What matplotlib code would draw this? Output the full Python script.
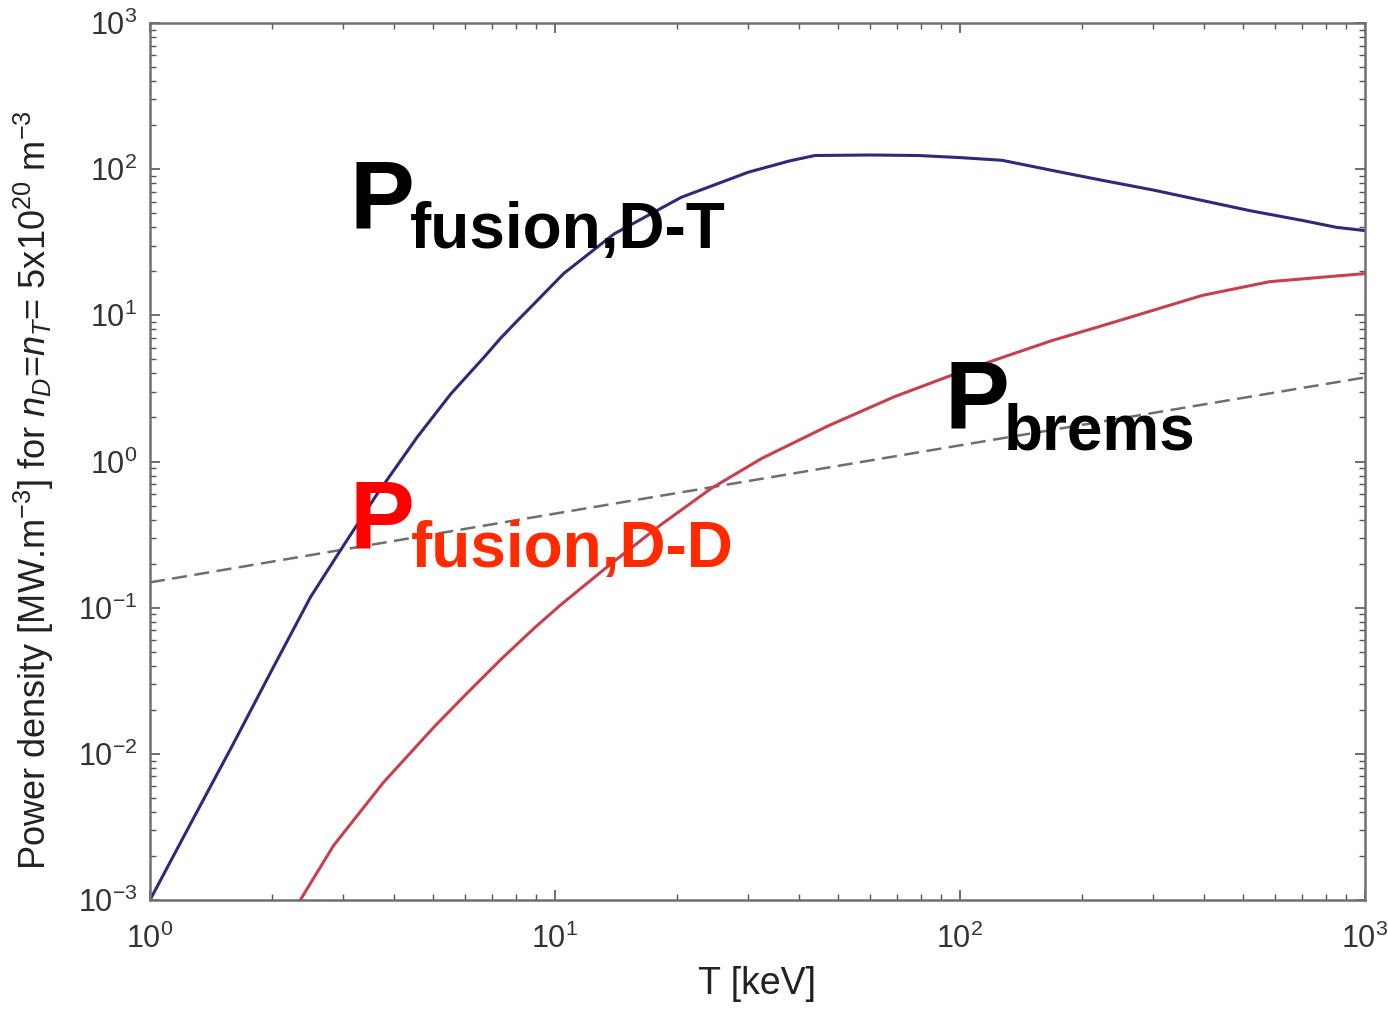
import numpy as np
import matplotlib
matplotlib.use('Agg')
import matplotlib.pyplot as plt
from matplotlib.ticker import LogLocator, NullFormatter

plt.rcParams['font.family'] = ['Liberation Sans', 'DejaVu Sans']
plt.rcParams['mathtext.fontset'] = 'custom'
plt.rcParams['mathtext.rm'] = 'Liberation Sans'
plt.rcParams['mathtext.it'] = 'Liberation Sans:italic'
plt.rcParams['mathtext.bf'] = 'Liberation Sans:bold'
plt.rcParams['mathtext.default'] = 'regular'
plt.rcParams['axes.unicode_minus'] = False

# D-T fusion power density
T_dt = [1, 1.25, 1.6, 2.0, 2.49, 2.95, 3.64, 4.57, 5.53, 6.68, 7.35, 8.08, 8.72, 10.5, 14.0, 20.5,
        30.0, 38, 43.8, 60, 79, 100, 127, 169, 224, 300, 397, 520, 703, 850, 1000]
P_dt = [0.001, 0.0032, 0.0115, 0.0375, 0.118, 0.246, 0.601, 1.47, 2.90, 5.17, 7.0, 9.21, 11.4, 19.3, 36.1, 64.2,
        95.3, 114, 124, 125, 124, 120, 115, 98, 84, 72, 61, 52, 44.5, 40, 38]

# D-D fusion power density
T_dd = [2.35, 2.84, 3.77, 5.02, 6.09, 7.35, 8.87, 10.35, 13.76, 18.3, 24.3, 32.4, 47.4, 69.0,
        101, 127, 169, 225, 397, 582, 1000]
P_dd = [0.001, 0.00236, 0.00637, 0.0152, 0.0263, 0.0442, 0.0721, 0.105, 0.2, 0.371, 0.654, 1.05, 1.76, 2.78,
        4.13, 5.14, 6.73, 8.51, 13.7, 17.0, 19.3]

# bremsstrahlung
T_br = [1, 10, 100, 1000]
P_br = [0.149, 0.44, 1.29, 3.76]

W, H = 1388, 1010
fig = plt.figure(figsize=(W / 100, H / 100), dpi=100)
ax = fig.add_axes([150 / W, 1 - 900 / H, (1365 - 150) / W, (900 - 23) / H])

ax.plot(T_br, P_br, color='#6e6e6e', lw=1.8, dashes=(6, 3))
ax.plot(T_dd, P_dd, color='#c8404c', lw=2.2)
ax.plot(T_dt, P_dt, color='#2b2b7a', lw=2.2)

ax.set_xscale('log')
ax.set_yscale('log')
ax.set_xlim(1, 1000)
ax.set_ylim(1e-3, 1e3)

ax.xaxis.set_major_locator(LogLocator(base=10, numticks=10))
ax.yaxis.set_major_locator(LogLocator(base=10, numticks=10))
ax.xaxis.set_minor_locator(LogLocator(base=10, subs=np.arange(2, 10), numticks=20))
ax.yaxis.set_minor_locator(LogLocator(base=10, subs=np.arange(2, 10), numticks=20))
ax.xaxis.set_minor_formatter(NullFormatter())
ax.yaxis.set_minor_formatter(NullFormatter())
ax.xaxis.get_offset_text().set_visible(False)
ax.yaxis.get_offset_text().set_visible(False)

for s in ax.spines.values():
    s.set_color('#707070')
    s.set_linewidth(1.8)
ax.tick_params(which='both', direction='in', top=True, right=True, color='#555555',
               labelcolor='#333333', labelsize=22)
ax.tick_params(which='major', length=7, width=1.2)
ax.tick_params(which='minor', length=4, width=1.0)
ax.tick_params(axis='x', pad=17)
ax.tick_params(axis='y', pad=9)

ax.set_xlabel('T [keV]', fontsize=27, color='#222222', labelpad=8)
ax.set_ylabel('Power density [MW.m$^{-3}$] for $\\mathit{n_D}$=$\\mathit{n_T}$= 5x10$^{20}$ m$^{-3}$',
              fontsize=26, color='#222222')
ax.yaxis.set_label_coords(-0.077, 0.4675)

def px(x, y):
    return x / W, 1 - y / H

fig.text(*px(350, 228), 'P', fontsize=70, fontweight='bold', color='black', va='baseline')
fig.text(*px(410, 248), 'fusion,D-T', fontsize=46, fontweight='bold', color='black', va='baseline')
fig.text(*px(350, 547), 'P', fontsize=70, fontweight='bold', color='#ff0000', va='baseline')
fig.text(*px(411, 567), 'fusion,D-D', fontsize=46, fontweight='bold', color='#ff2a00', va='baseline')
fig.text(*px(944, 428), 'P', fontsize=70, fontweight='bold', color='black', va='baseline')
fig.text(*px(1004, 450), 'brems', fontsize=46, fontweight='bold', color='black', va='baseline')

fig.savefig('out.png', dpi=100)
